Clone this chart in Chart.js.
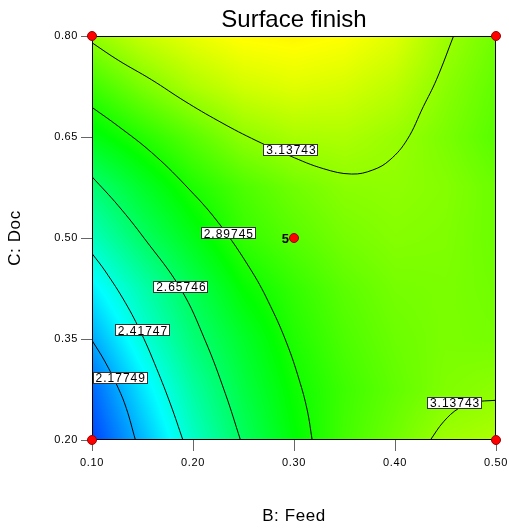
<!DOCTYPE html>
<html>
<head>
<meta charset="utf-8">
<script src="https://cdn.jsdelivr.net/npm/chart.js@4.4.1/dist/chart.umd.min.js"></script>
<style>
  html, body { margin: 0; padding: 0; background: #fff; }
</style>
</head>
<body>
<canvas id="chart" width="509" height="529"></canvas>
<script>
// ── Data ─────────────────────────────────────────────────────────────────────

const xTicks = [0.10, 0.20, 0.30, 0.40, 0.50];   // B: Feed
const yTicks = [0.20, 0.35, 0.50, 0.65, 0.80];   // C: Doc

// response grid (Surface finish), rows = Doc, cols = Feed
const gridX = [0.10, 0.15, 0.20, 0.25, 0.30, 0.35, 0.40, 0.45, 0.50];
const gridY = [0.200, 0.275, 0.350, 0.425, 0.500, 0.575, 0.650, 0.725, 0.800];
const gridZ = [
  [1.98, 2.21, 2.46, 2.67, 2.84, 2.98, 3.07, 3.16, 3.19],
  [2.05, 2.30, 2.535, 2.72, 2.87, 2.97, 3.04, 3.10, 3.125],
  [2.18, 2.42, 2.62, 2.77, 2.91, 3.00, 3.06, 3.09, 3.08],
  [2.32, 2.51, 2.69, 2.855, 2.95, 3.03, 3.08, 3.09, 3.07],
  [2.48, 2.655, 2.805, 2.95, 3.02, 3.08, 3.11, 3.10, 3.06],
  [2.62, 2.77, 2.905, 3.00, 3.07, 3.12, 3.13, 3.11, 3.06],
  [2.815, 2.92, 3.025, 3.13, 3.18, 3.19, 3.15, 3.09, 3.02],
  [2.97, 3.09, 3.19, 3.26, 3.29, 3.27, 3.22, 3.12, 3.04],
  [3.137, 3.24, 3.31, 3.36, 3.37, 3.35, 3.29, 3.16, 3.07],
];

const contourLevels = [2.17749, 2.41747, 2.65746, 2.89745, 3.13743];

// contour paths [feed, doc]
const c2177 = [[0.100, 0.348], [0.113, 0.316], [0.126, 0.277], [0.134, 0.247], [0.143, 0.200]];
const c2417 = [[0.100, 0.477], [0.113, 0.451], [0.133, 0.404], [0.149, 0.358], [0.164, 0.306], [0.178, 0.252], [0.190, 0.200]];
const c2657 = [[0.100, 0.591], [0.126, 0.548], [0.152, 0.499], [0.188, 0.424], [0.212, 0.348], [0.232, 0.269], [0.247, 0.200]];
const c2897 = [[0.100, 0.694], [0.126, 0.666], [0.159, 0.627], [0.192, 0.579], [0.225, 0.523], [0.258, 0.451],
               [0.277, 0.398], [0.293, 0.343], [0.305, 0.290], [0.313, 0.245], [0.318, 0.200]];
const c3137a = [[0.100, 0.790], [0.126, 0.764], [0.159, 0.735], [0.192, 0.703], [0.225, 0.674], [0.258, 0.648], [0.296, 0.622],
                [0.329, 0.603], [0.357, 0.595], [0.378, 0.601], [0.395, 0.616], [0.412, 0.646], [0.428, 0.695], [0.441, 0.735], [0.458, 0.800]];
const c3137b = [[0.435, 0.200], [0.448, 0.227], [0.463, 0.247], [0.478, 0.256], [0.500, 0.259]];

// label anchors: [feed, doc, level index]
const contourLabels = [
  [0.128, 0.292, 0],
  [0.150, 0.363, 1],
  [0.188, 0.427, 2],
  [0.235, 0.507, 3],
  [0.297, 0.631, 4],
  [0.459, 0.255, 4],
];

// design points and replicate counts
const designX = [0.10, 0.50, 0.10, 0.50, 0.30];
const designY = [0.80, 0.80, 0.20, 0.20, 0.50];
const designN = [1, 1, 1, 1, 5];

// colour ramp: blue → cyan → green → yellow → red
const rampValues = [1.85, 2.35, 2.85, 3.35, 3.85];
const rampColors = [[0, 0, 255], [0, 255, 255], [0, 255, 0], [255, 255, 0], [255, 0, 0]];

const FONT = "'Liberation Sans', Arial, sans-serif";

// ── Helpers ──────────────────────────────────────────────────────────────────

function toPoints(arr) { return arr.map(p => ({ x: p[0], y: p[1] })); }

function findCell(arr, v) {
  let i = 0;
  while (i < arr.length - 2 && v > arr[i + 1]) i++;
  const t = Math.min(1, Math.max(0, (v - arr[i]) / (arr[i + 1] - arr[i])));
  return [i, t];
}

function surfaceAt(xv, yv) {
  const [i, tx] = findCell(gridX, xv);
  const [j, ty] = findCell(gridY, yv);
  const a = gridZ[j][i], b = gridZ[j][i + 1];
  const c = gridZ[j + 1][i], d = gridZ[j + 1][i + 1];
  return (a * (1 - tx) + b * tx) * (1 - ty) + (c * (1 - tx) + d * tx) * ty;
}

function rampColor(v) {
  if (v <= rampValues[0]) return rampColors[0];
  for (let k = 0; k < rampValues.length - 1; k++) {
    if (v <= rampValues[k + 1]) {
      const t = (v - rampValues[k]) / (rampValues[k + 1] - rampValues[k]);
      const c0 = rampColors[k], c1 = rampColors[k + 1];
      return [0, 1, 2].map(n => c0[n] + (c1[n] - c0[n]) * t);
    }
  }
  return rampColors[rampColors.length - 1];
}

// ── Plugins ──────────────────────────────────────────────────────────────────

let surfaceImg = null;

const surfacePlugin = {
  id: 'surface',
  beforeDraw(chart) {
    // text in this chart is set slightly wide
    chart.ctx.letterSpacing = '0.6px';
  },
  beforeDatasetsDraw(chart) {
    const { ctx, chartArea: a, scales } = chart;
    const w = Math.round(a.right - a.left), h = Math.round(a.bottom - a.top);
    if (!surfaceImg) {
      surfaceImg = document.createElement('canvas');
      surfaceImg.width = w; surfaceImg.height = h;
      const octx = surfaceImg.getContext('2d');
      const img = octx.createImageData(w, h);
      for (let j = 0; j < h; j++) {
        const yv = scales.y.getValueForPixel(a.top + j + 0.5);
        for (let i = 0; i < w; i++) {
          const xv = scales.x.getValueForPixel(a.left + i + 0.5);
          const col = rampColor(surfaceAt(xv, yv));
          const o = (j * w + i) * 4;
          img.data[o] = col[0]; img.data[o + 1] = col[1]; img.data[o + 2] = col[2]; img.data[o + 3] = 255;
        }
      }
      octx.putImageData(img, 0, 0);
    }
    ctx.drawImage(surfaceImg, a.left, a.top);

    // frame
    ctx.save();
    ctx.strokeStyle = '#000';
    ctx.lineWidth = 1;
    ctx.strokeRect(a.left + 0.5, a.top + 0.5, w - 1, h - 1);
    ctx.restore();
  },
  afterDatasetsDraw(chart) {
    const { ctx, scales } = chart;
    ctx.save();
    ctx.font = '12px ' + FONT;
    ctx.letterSpacing = '1px';
    ctx.textAlign = 'center';
    ctx.textBaseline = 'middle';
    contourLabels.forEach(([lx, ly, k]) => {
      const txt = contourLevels[k].toFixed(5);
      const px = scales.x.getPixelForValue(lx);
      const py = scales.y.getPixelForValue(ly);
      const tw = ctx.measureText(txt).width;
      const bw = Math.round(tw + 5), bh = 12;
      const bx = Math.round(px - bw / 2), by = Math.round(py - bh / 2);
      ctx.fillStyle = '#fff';
      ctx.fillRect(bx, by, bw, bh);
      ctx.strokeStyle = '#333';
      ctx.lineWidth = 1;
      ctx.strokeRect(bx + 0.5, by + 0.5, bw - 1, bh - 1);
      ctx.fillStyle = '#000';
      ctx.fillText(txt, px + 0.5, py + 1);
    });

    // replicate counts next to design points
    ctx.font = 'bold 13px ' + FONT;
    ctx.letterSpacing = '0px';
    ctx.textAlign = 'right';
    designN.forEach((n, i) => {
      if (n < 2) return;
      const px = scales.x.getPixelForValue(designX[i]);
      const py = scales.y.getPixelForValue(designY[i]);
      ctx.fillText(String(n), px - 5, py + 1);
    });
    ctx.restore();
  },
  afterDraw(chart) {
    const { ctx, chartArea: a } = chart;
    ctx.save();
    ctx.font = '24px ' + FONT;
    ctx.letterSpacing = '0px';
    ctx.fillStyle = '#000';
    ctx.textAlign = 'center';
    ctx.textBaseline = 'alphabetic';
    ctx.fillText('Surface finish', (a.left + a.right) / 2, 27);
    ctx.restore();
  },
};

// ── Chart ────────────────────────────────────────────────────────────────────

const contours = [c2177, c2417, c2657, c2897, c3137a, c3137b];

const datasets = [
  {
    label: 'Design points',
    data: designX.map((x, i) => ({ x, y: designY[i] })),
    showLine: false,
    pointRadius: 4.5,
    pointBackgroundColor: '#ff0000',
    pointBorderColor: '#990000',
    pointBorderWidth: 1,
    clip: false,
  },
  ...contours.map(c => ({
    data: toPoints(c),
    borderColor: '#000',
    borderWidth: 1,
    pointRadius: 0,
    tension: 0.4,
    fill: false,
  })),
];

const tickFont = { family: FONT, size: 11 };
const titleFont = { family: FONT, size: 17 };

new Chart(document.getElementById('chart'), {
  type: 'line',
  data: { datasets },
  options: {
    responsive: false,
    animation: false,
    events: [],
    layout: { padding: { top: 36, right: 13, left: 0, bottom: 0 } },
    plugins: { legend: { display: false }, tooltip: { enabled: false } },
    scales: {
      x: {
        type: 'linear',
        min: 0.1, max: 0.5,
        afterBuildTicks: s => { s.ticks = xTicks.map(v => ({ value: v })); },
        afterFit: s => { s.height = 89; s.paddingLeft = 0; s.paddingRight = 0; },
        ticks: { font: tickFont, color: '#000', padding: 5, callback: v => v.toFixed(2), maxRotation: 0 },
        grid: { drawOnChartArea: false, drawTicks: true, tickLength: 11, tickColor: '#666' },
        border: { display: false },
        title: { display: true, text: 'B: Feed', font: titleFont, color: '#000', padding: { bottom: 2 } },
      },
      y: {
        type: 'linear',
        min: 0.2, max: 0.8,
        afterBuildTicks: s => { s.ticks = yTicks.map(v => ({ value: v })); },
        afterFit: s => { s.width = 92; s.paddingTop = 0; s.paddingBottom = 0; },
        ticks: { font: tickFont, color: '#000', padding: 3, callback: v => v.toFixed(2) },
        grid: { drawOnChartArea: false, drawTicks: true, tickLength: 11, tickColor: '#666' },
        border: { display: false },
        title: { display: true, text: 'C: Doc', font: titleFont, color: '#000', padding: { top: 5 } },
      },
    },
  },
  plugins: [surfacePlugin],
});
</script>
</body>
</html>
